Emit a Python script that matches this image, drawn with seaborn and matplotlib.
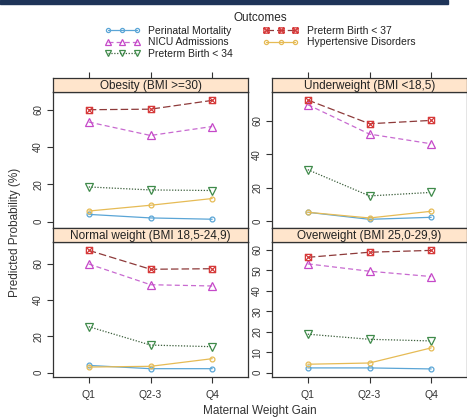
import matplotlib
matplotlib.use('Agg')
import matplotlib.pyplot as plt
import numpy as np
import pandas as pd
import seaborn as sns
from matplotlib.lines import Line2D
from matplotlib.path import Path
from matplotlib.patches import Rectangle

# data (predicted probability, %)
gain_groups = ['Q1', 'Q2-3', 'Q4']
outcomes = ['Perinatal Mortality', 'NICU Admissions', 'Preterm Birth < 34',
            'Preterm Birth < 37', 'Hypertensive Disorders']
panels = ['Obesity (BMI >=30)', 'Underweight (BMI <18,5)',
          'Normal weight (BMI 18,5-24,9)', 'Overweight (BMI 25,0-29,9)']

obesity_pm = [3.9, 2.0, 1.3]
obesity_nicu = [53.4, 46.2, 51.0]
obesity_pb34 = [18.6, 17.0, 16.7]
obesity_pb37 = [60.0, 60.3, 65.0]
obesity_hyp = [5.7, 8.8, 12.4]

under_pm = [5.2, 1.0, 2.2]
under_nicu = [69.6, 52.0, 46.2]
under_pb34 = [30.7, 15.0, 17.1]
under_pb37 = [72.4, 58.2, 60.2]
under_hyp = [5.2, 1.8, 5.8]

normal_pm = [4.0, 2.2, 2.2]
normal_nicu = [59.8, 48.4, 47.7]
normal_pb34 = [25.3, 15.2, 14.3]
normal_pb37 = [67.3, 56.9, 57.2]
normal_hyp = [3.1, 3.5, 7.7]

over_pm = [2.3, 2.3, 1.8]
over_nicu = [53.2, 49.6, 47.0]
over_pb34 = [18.8, 16.3, 15.5]
over_pb37 = [56.4, 58.9, 59.8]
over_hyp = [4.1, 4.7, 12.1]

panel_values = {
    panels[0]: [obesity_pm, obesity_nicu, obesity_pb34, obesity_pb37, obesity_hyp],
    panels[1]: [under_pm, under_nicu, under_pb34, under_pb37, under_hyp],
    panels[2]: [normal_pm, normal_nicu, normal_pb34, normal_pb37, normal_hyp],
    panels[3]: [over_pm, over_nicu, over_pb34, over_pb37, over_hyp],
}

rows = []
for p in panels:
    for o, vals in zip(outcomes, panel_values[p]):
        for g, v in zip(gain_groups, vals):
            rows.append({'panel': p, 'outcome': o, 'gain': g, 'prob': v})
df = pd.DataFrame(rows)

# square with a cross inside (lattice pch 7)
boxx = Path([(-1, -1), (1, -1), (1, 1), (-1, 1), (-1, -1),
             (-1, -1), (1, 1), (-1, 1), (1, -1)],
            [Path.MOVETO, Path.LINETO, Path.LINETO, Path.LINETO, Path.CLOSEPOLY,
             Path.MOVETO, Path.LINETO, Path.MOVETO, Path.LINETO])

styles = {
    'Perinatal Mortality': dict(color='#5aa5d6', mec='#5aa5d6', ls='-', marker='o', ms=3.5),
    'NICU Admissions': dict(color='#c86ad0', mec='#c548c8', ls=(0, (4, 2.5)), marker='^', ms=5.5),
    'Preterm Birth < 34': dict(color='#3b5e3b', mec='#3f8a4a', ls=(0, (1, 1.3)), marker='v', ms=5.5),
    'Preterm Birth < 37': dict(color='#8e3a3a', mec='#d63a3a', ls=(0, (6, 2.5)), marker=boxx, ms=4.5),
    'Hypertensive Disorders': dict(color='#e6bb55', mec='#e6bb55', ls='-', marker='o', ms=3.5),
}

sns.set_theme(style='white')
plt.rcParams['font.family'] = ['Liberation Sans', 'DejaVu Sans']

W, H = 467, 420
fig = plt.figure(figsize=(W / 100, H / 100), dpi=100)


def fbox(x0, y0, x1, y1):
    return [x0 / W, 1 - y1 / H, (x1 - x0) / W, (y1 - y0) / H]


# panel boxes in pixels: (x0, strip_top, panel_top, panel_bottom)
layout = {
    panels[0]: (53, 78, 92, 228),
    panels[1]: (272, 78, 92, 228),
    panels[2]: (53, 228, 242, 376.5),
    panels[3]: (272, 228, 242, 376.5),
}
ylims = {
    panels[0]: (-3.4, 69.5),
    panels[1]: (-4.2, 77.2),
    panels[2]: (-2.1, 71.9),
    panels[3]: (-1.9, 63.9),
}
yticks = {
    panels[0]: [0, 20, 40, 60],
    panels[1]: [0, 20, 40, 60],
    panels[2]: [0, 20, 40, 60],
    panels[3]: [0, 10, 20, 30, 40, 50, 60],
}
xlim = (-0.58, 2.58)
edge = '#333333'

for p in panels:
    x0, st, pt, pb = layout[p]
    ax = fig.add_axes(fbox(x0, pt, x0 + 195, pb))
    sub = df[df['panel'] == p]
    for o in outcomes:
        s = styles[o]
        d = sub[sub['outcome'] == o]
        sns.lineplot(data=d, x='gain', y='prob', ax=ax, sort=False,
                     color=s['color'], linestyle=s['ls'], linewidth=0.9,
                     marker=s['marker'], markersize=s['ms'],
                     markerfacecolor='none', markeredgecolor=s['mec'],
                     markeredgewidth=0.9, legend=False)
    ax.set_xlim(*xlim)
    ax.set_ylim(*ylims[p])
    ax.set_yticks(yticks[p])
    ax.set_xlabel('')
    ax.set_ylabel('')
    ax.set_facecolor('white')
    for sp in ax.spines.values():
        sp.set_color(edge)
        sp.set_linewidth(0.9)
    ax.tick_params(axis='y', left=True, length=4, width=0.8, color=edge,
                   labelsize=7, labelcolor='#333333', labelrotation=90, pad=3)
    for lab in ax.get_yticklabels():
        lab.set_va('center')
    if pb > 300:
        ax.tick_params(axis='x', bottom=True, length=4, width=0.8, color=edge,
                       labelsize=7.5, labelcolor='#333333', pad=6)
    else:
        ax.tick_params(axis='x', bottom=False, labelbottom=False)

    # strip
    sax = fig.add_axes(fbox(x0, st, x0 + 195, pt))
    sax.set_facecolor('#ffe5cc')
    sax.set_xlim(*xlim)
    sax.set_yticks([])
    for sp in sax.spines.values():
        sp.set_color(edge)
        sp.set_linewidth(0.9)
    if st < 100:
        sax.set_xticks([0, 1, 2])
        sax.tick_params(axis='x', bottom=False, labelbottom=False, top=True,
                        length=4, width=0.8, color=edge)
    else:
        sax.set_xticks([])
    sax.text(0.5, 0.45, p, transform=sax.transAxes, ha='center', va='center',
             fontsize=8.5, color='#222222')

# legend
handles = [Line2D([0], [0], color=styles[o]['color'], ls=styles[o]['ls'], lw=0.9,
                  marker=styles[o]['marker'], ms=styles[o]['ms'] * 0.85,
                  mfc='none', mec=styles[o]['mec'], mew=0.9)
           for o in outcomes]
leg = fig.legend(handles, outcomes, loc='upper center', ncol=2,
                 bbox_to_anchor=(260 / W, 1 - 5 / H), frameon=False,
                 fontsize=7.5, title='Outcomes', title_fontsize=8.5,
                 numpoints=3, handlelength=3.4, handletextpad=0.8,
                 labelspacing=0.14, columnspacing=2.9, borderpad=0.2)
for t in leg.get_texts():
    t.set_color('#222222')

fig.text(15 / W, 1 - 232 / H, 'Predicted Probability (%)', rotation=90,
         ha='center', va='center', fontsize=8.5, color='#333333')
fig.text(260 / W, 1 - 411 / H, 'Maternal Weight Gain', ha='center', va='center',
         fontsize=8.5, color='#333333')

# dark banner at the top of the screenshot
fig.patches.append(Rectangle((0, 1 - 4 / H), 448 / W, 4 / H, transform=fig.transFigure,
                             color='#1e3458', zorder=5))

fig.savefig('out.png', dpi=100)
